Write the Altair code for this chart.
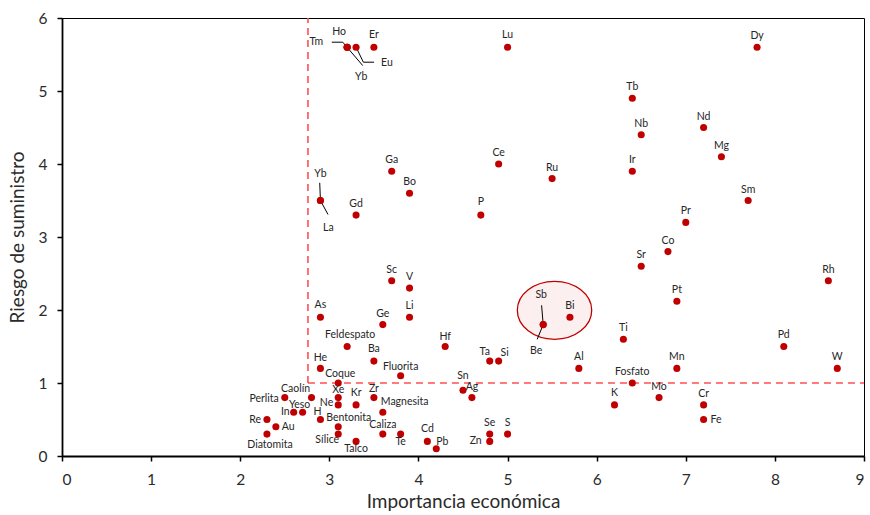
import altair as alt
import pandas as pd

# ---------------- data ----------------
names = ["Tm", "Ho", "Yb", "Eu", "Er", "Lu", "Dy", "Tb", "Nb", "Nd", "Mg", "Ce", "Ru", "Ir",
         "Sm", "P", "Pr", "Ga", "Bo", "Yb", "La", "Gd", "Co", "Sr", "Sc", "V", "Rh", "Pt",
         "As", "Li", "Ge", "Sb", "Be", "Bi", "Ti", "Pd", "Feldespato", "Hf", "Ba", "Ta", "Si",
         "He", "Al", "Mn", "W", "Fluorita", "Coque", "Fosfato", "Sn", "Caolín", "Perlita",
         "Xe", "Zr", "Ag", "Mo", "Ne", "Kr", "K", "Cr", "In", "Yeso", "Magnesita", "H", "Re",
         "Fe", "Au", "Bentonita", "Diatomita", "Sílice", "Caliza", "Te", "Se", "S", "Talco",
         "Cd", "Zn", "Pb"]
importancia = [3.2, 3.2, 3.2, 3.3, 3.5, 5.0, 7.8, 6.4, 6.5, 7.2, 7.4, 4.9, 5.5, 6.4,
               7.7, 4.7, 7.0, 3.7, 3.9, 2.9, 2.9, 3.3, 6.8, 6.5, 3.7, 3.9, 8.6, 6.9,
               2.9, 3.9, 3.6, 5.4, 5.4, 5.7, 6.3, 8.1, 3.2, 4.3, 3.5, 4.8, 4.9,
               2.9, 5.8, 6.9, 8.7, 3.8, 3.1, 6.4, 4.5, 2.8, 2.5,
               3.1, 3.5, 4.6, 6.7, 3.1, 3.3, 6.2, 7.2, 2.6, 2.7, 3.6, 2.9, 2.3,
               7.2, 2.4, 3.1, 2.3, 3.1, 3.6, 3.8, 4.8, 5.0, 3.3,
               4.1, 4.8, 4.2]
riesgo = [5.6, 5.6, 5.6, 5.6, 5.6, 5.6, 5.6, 4.9, 4.4, 4.5, 4.1, 4.0, 3.8, 3.9,
          3.5, 3.3, 3.2, 3.9, 3.6, 3.5, 3.5, 3.3, 2.8, 2.6, 2.4, 2.3, 2.4, 2.12,
          1.9, 1.9, 1.8, 1.8, 1.8, 1.9, 1.6, 1.5, 1.5, 1.5, 1.3, 1.3, 1.3,
          1.2, 1.2, 1.2, 1.2, 1.1, 1.0, 1.0, 0.9, 0.8, 0.8,
          0.8, 0.8, 0.8, 0.8, 0.7, 0.7, 0.7, 0.7, 0.6, 0.6, 0.6, 0.5, 0.5,
          0.5, 0.4, 0.4, 0.3, 0.3, 0.3, 0.3, 0.3, 0.3, 0.2,
          0.2, 0.2, 0.1]

x_ticks = list(range(0, 10))
y_ticks = list(range(0, 7))
umbral_importancia = 2.76
umbral_riesgo = 1.0

# ---------------- layout ----------------
W, H = 802, 438
X_MAX, Y_MAX = 9, 6

# ---------------- label placement (annotation styling, pixel offsets) ----------------
DEFAULT_LABEL = ("center", 0, -11)
label_place = {
    0: ("right", -24, -5),      # Tm
    1: ("center", -8, -15),     # Ho
    2: ("center", 14, 30),      # Yb (top)
    3: ("left", 25, 16),        # Eu
    4: ("center", 0, -12),      # Er
    5: ("center", 0, -12),      # Lu
    15: ("center", 0, -13),     # P
    19: ("center", 0, -27),     # Yb
    20: ("center", 8, 27),      # La
    28: ("center", 0, -12),     # As
    31: ("center", -2, -30),    # Sb
    32: ("center", -7, 26),     # Be
    35: ("center", 0, -12),     # Pd
    36: ("center", 3, -12),     # Feldespato
    37: ("center", 0, -10),     # Hf
    38: ("center", 0, -12),     # Ba
    39: ("center", -5, -9),     # Ta
    40: ("center", 6, -8),      # Si
    41: ("center", 0, -10),     # He
    45: ("center", 0, -9),      # Fluorita
    46: ("center", 2, -9),      # Coque
    48: ("center", 0, -14),     # Sn
    49: ("center", -16, -9),    # Caolín
    50: ("right", -6, 1),       # Perlita
    51: ("center", 0, -8),      # Xe
    52: ("center", 0, -9),      # Zr
    55: ("right", -5, -2),      # Ne
    56: ("center", 0, -12),     # Kr
    57: ("center", 0, -12),     # K
    59: ("right", -4, 0),       # In
    60: ("center", -3, -7),     # Yeso
    61: ("left", -2, -10),      # Magnesita
    62: ("center", -3, -8),     # H
    63: ("right", -6, 0),       # Re
    64: ("left", 7, 0),         # Fe
    65: ("left", 6, 0),         # Au
    66: ("left", -12, -9),      # Bentonita
    67: ("center", 3, 11),      # Diatomita
    68: ("center", -11, 6),     # Sílice
    69: ("center", 0, -9),      # Caliza
    70: ("center", 0, 8),       # Te
    73: ("center", 0, 8),       # Talco
    74: ("center", 0, -12),     # Cd
    75: ("right", -8, 0),       # Zn
    76: ("left", 0, -7),        # Pb
}

aligns, lx, ly = [], [], []
for i in range(len(names)):
    a, dx, dy = label_place.get(i, DEFAULT_LABEL)
    aligns.append(a)
    lx.append(importancia[i] + dx * X_MAX / W)
    ly.append(riesgo[i] - dy * Y_MAX / H)

df = pd.DataFrame({"name": names, "x": importancia, "y": riesgo,
                   "align": aligns, "lx": lx, "ly": ly})

FONT = "Lato"
RED = "#c00000"
TXT = "#262626"
AX_TXT = "#2b2b2b"

xscale = alt.Scale(domain=[0, X_MAX], nice=False, zero=False)
yscale = alt.Scale(domain=[0, Y_MAX], nice=False, zero=False)

xaxis = alt.Axis(values=x_ticks, format="d", title="Importancia económica", grid=False,
                 tickSize=5, tickColor="black", tickWidth=1.5, domainColor="black",
                 domainWidth=1.8, labelFontSize=15.5, labelFont=FONT, labelColor=AX_TXT,
                 labelPadding=11, titleFontSize=19, titleFont=FONT, titleFontWeight="normal",
                 titleColor=AX_TXT, titlePadding=5)
yaxis = alt.Axis(values=y_ticks, format="d", title="Riesgo de suministro", grid=False,
                 tickSize=5, tickColor="black", tickWidth=1.5, domainColor="black",
                 domainWidth=1.8, labelFontSize=15.5, labelFont=FONT, labelColor=AX_TXT,
                 labelPadding=10, titleFontSize=19, titleFont=FONT, titleFontWeight="normal",
                 titleColor=AX_TXT, titlePadding=11)

base = alt.Chart(df)

# highlight ellipse around Sb / Bi
ellipse_df = pd.DataFrame({"x": [5.527], "y": [1.996]})
ellipse = alt.Chart(ellipse_df).mark_point(
    shape="M -1 0 A 1 0.78 0 1 0 1 0 A 1 0.78 0 1 0 -1 0 Z",
    size=5535, filled=True, fill="#fcefef", fillOpacity=1,
    stroke=RED, strokeWidth=1.3, opacity=1
).encode(x=alt.X("x:Q", scale=xscale, axis=xaxis), y=alt.Y("y:Q", scale=yscale, axis=yaxis))

# dashed threshold lines
vline = alt.Chart(pd.DataFrame({"x": [umbral_importancia], "y": [umbral_riesgo], "y2": [Y_MAX]})).mark_rule(
    color="#ff5050", strokeWidth=1.6, strokeDash=[7, 5]
).encode(x="x:Q", y="y:Q", y2="y2:Q")
hline = alt.Chart(pd.DataFrame({"x": [umbral_importancia], "x2": [X_MAX], "y": [umbral_riesgo]})).mark_rule(
    color="#ff5050", strokeWidth=1.6, strokeDash=[7, 5]
).encode(x="x:Q", x2="x2:Q", y="y:Q")

# leader lines: anchor index + pixel offsets of segment ends
leaders = [
    (0, -15.4, -5, -4.4, -5), (0, -4.4, -5, 15.6, 18.4),
    (3, 1, 2, 7.3, 15), (3, 7.3, 15, 18, 15),
    (19, -0.7, -17.7, 0, 0), (20, 0, 0, 7.6, 14),
    (31, -1.6, -19.3, 0, 0), (32, 0, 0, -6, 14.7),
]
leader_layers = []
for idx, ox1, oy1, ox2, oy2 in leaders:
    d = pd.DataFrame({"x": [importancia[idx]], "y": [riesgo[idx]]})
    leader_layers.append(
        alt.Chart(d).mark_rule(color="black", strokeWidth=1, xOffset=ox1, yOffset=oy1,
                               x2Offset=ox2, y2Offset=oy2)
        .encode(x="x:Q", y="y:Q", x2="x:Q", y2="y:Q")
    )

points = base.mark_circle(size=50, color=RED, opacity=1).encode(x="x:Q", y="y:Q")

label_layers = []
for a in ["center", "left", "right"]:
    label_layers.append(
        base.transform_filter(alt.datum.align == a)
        .mark_text(align=a, baseline="middle", font=FONT, fontSize=10.5, color=TXT)
        .encode(x="lx:Q", y="ly:Q", text="name:N")
    )

chart = alt.layer(ellipse, vline, hline, *leader_layers, points, *label_layers).properties(
    width=W, height=H,
    autosize=alt.AutoSizeParams(type="none"),
    padding={"left": 62, "top": 18, "right": 6, "bottom": 59},
    background="white",
).configure_view(stroke="black", strokeWidth=1)

chart.save("out.html", embed_options={"renderer": "svg", "actions": False})
